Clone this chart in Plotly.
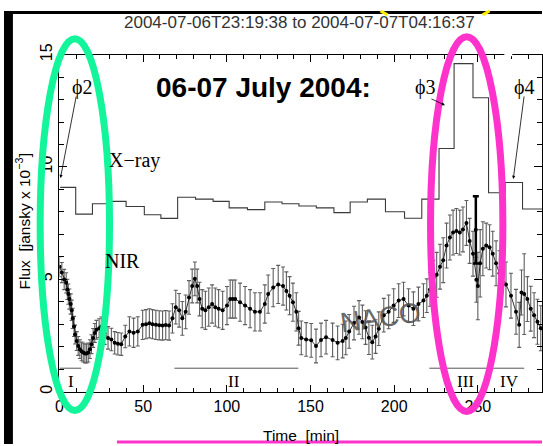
import plotly.graph_objects as go

W, H = 543, 446

# X-ray light curve: bin edges [min] and binned flux [mJy]
xray_edges = [0.4, 9.7, 19.7, 30.2, 39.8, 50.7, 60.6, 70.6, 81.3, 91.8, 101.4, 112.3,
              122.7, 133.0, 143.1, 153.5, 164.0, 173.7, 184.0, 194.8, 206.2, 216.5,
              226.8, 235.8, 247.1, 256.4, 266.3, 276.7, 288.3]
xray_flux = [9.09, 7.90, 8.36, 8.47, 8.24, 7.87, 7.71, 8.65, 8.57, 8.47, 8.18, 8.10,
             8.44, 8.36, 8.26, 8.18, 7.97, 8.44, 8.57, 8.01, 7.72, 8.57, 10.82, 14.6,
             13.08, 8.85, 9.31, 8.13]

# NIR light curve
nir_time = [0.0, 1.4, 2.8, 4.0, 4.7, 5.3, 5.9, 6.7, 7.3, 7.9, 8.7, 9.3, 10.3, 11.2, 12.2,
            13.2, 14.2, 15.2, 16.2, 17.2, 18.2, 19.1, 20.1, 21.1, 22.1, 23.7, 25.0, 27.0,
            29.0, 31.0, 33.0, 34.9, 36.9, 39.3, 41.8, 44.3, 46.8, 49.7, 51.7, 53.7, 55.6,
            57.6, 59.6, 61.6, 63.5, 65.5, 67.5, 69.5, 71.5, 73.4, 75.4, 77.4, 79.3, 80.9,
            82.3, 83.7, 85.3, 87.2, 89.2, 91.2, 93.1, 95.1, 97.5, 100.1, 102.0, 103.5,
            105.0, 107.9, 110.9, 113.9, 116.8, 119.8, 122.7, 124.7, 127.7, 130.7, 133.6,
            135.6, 137.5, 139.5, 141.5, 142.9, 144.5, 147.4, 150.4, 153.3, 156.3, 159.3,
            163.2, 166.2, 169.2, 171.1, 173.1, 176.0, 179.0, 181.0, 182.9, 184.9, 186.9,
            188.9, 190.8, 193.8, 196.7, 199.7, 202.7, 205.6, 208.6, 211.5, 214.5, 217.5,
            219.5, 221.4, 223.4, 225.4, 227.4, 229.3, 231.3, 233.3, 235.2, 237.2, 239.2,
            241.1, 243.2, 245.1, 247.1, 249.1, 250.0, 251.4, 253.0, 255.0, 257.0, 258.9,
            260.9, 262.9, 266.8, 269.8, 272.8, 274.7, 276.1, 277.7, 279.6, 281.6, 283.6,
            285.6, 287.6]
nir_flux = [5.56, 5.30, 4.99, 4.84, 4.55, 4.34, 4.12, 3.90, 3.62, 3.26, 2.90, 2.54, 2.25,
            2.03, 1.89, 1.79, 1.74, 1.70, 1.70, 1.74, 1.89, 2.11, 2.39, 2.61, 2.75, 2.82,
            2.90, 2.60, 2.39, 2.32, 2.17, 2.13, 2.11, 2.45, 2.68, 2.62, 2.68, 2.97, 3.00,
            3.04, 3.00, 2.97, 2.95, 2.94, 2.96, 2.94, 3.26, 3.76, 3.62, 3.26, 3.55, 4.19,
            4.70, 5.02, 4.70, 4.12, 3.69, 3.62, 3.76, 3.90, 3.76, 3.69, 3.62, 3.83, 4.12,
            4.12, 4.12, 3.98, 3.83, 3.69, 3.55, 3.55, 3.90, 4.34, 4.63, 4.77, 4.70, 4.48,
            4.27, 3.98, 3.55, 2.82, 2.39, 2.32, 2.28, 2.03, 2.30, 2.42, 2.30, 2.17, 2.25,
            2.39, 2.68, 3.05, 3.30, 3.10, 2.85, 2.40, 2.20, 2.45, 2.80, 3.40, 3.55, 3.83,
            4.05, 4.12, 3.83, 3.69, 3.90, 4.05, 4.27, 4.55, 4.84, 5.20, 5.56, 5.85, 6.50,
            6.86, 7.08, 7.15, 7.08, 7.22, 7.51, 6.71, 6.14, 4.98, 4.70, 5.71, 6.36, 6.50,
            6.43, 6.14, 5.71, 5.27, 4.77, 4.27, 3.55, 2.97, 4.41, 4.34, 4.12, 3.69, 3.40,
            3.11, 2.82]
nir_err = [0.45, 0.45, 0.45, 0.45, 0.45, 0.45, 0.45, 0.45, 0.45, 0.45, 0.45, 0.42, 0.42,
           0.42, 0.42, 0.42, 0.42, 0.42, 0.42, 0.42, 0.42, 0.42, 0.42, 0.42, 0.42, 0.42,
           0.42, 0.50, 0.50, 0.50, 0.50, 0.50, 0.50, 0.50, 0.65, 0.65, 0.65, 0.65, 0.65,
           0.65, 0.65, 0.65, 0.65, 0.65, 0.65, 0.65, 0.65, 0.75, 0.75, 0.75, 0.75, 0.75,
           0.75, 0.75, 0.75, 0.75, 0.85, 0.85, 0.85, 0.85, 0.85, 0.85, 0.85, 0.85, 0.85,
           0.85, 0.85, 0.85, 0.85, 0.85, 0.85, 0.85, 0.85, 0.85, 0.85, 0.85, 0.85, 0.85,
           0.85, 0.85, 0.85, 0.75, 0.75, 0.75, 0.75, 0.75, 0.75, 0.75, 0.75, 0.75, 0.75,
           0.75, 0.75, 0.75, 0.75, 0.75, 0.75, 0.75, 0.75, 0.75, 0.75, 0.75, 0.75, 0.75,
           0.75, 0.75, 0.75, 0.75, 0.75, 0.75, 0.75, 0.75, 1.0, 1.0, 1.0, 1.0, 1.0, 1.0,
           1.0, 1.0, 1.0, 1.0, 1.0, 1.0, 1.0, 1.0, 1.5, 1.5, 1.2, 1.0, 1.0, 1.0, 1.0,
           1.0, 1.0, 1.0, 1.0, 1.0, 1.0, 1.8, 1.0, 1.0, 1.0, 1.0, 1.0, 1.0]

# single high-error NIR point near the X-ray peak
spike_time = [248.8]
spike_flux = [7.2]
spike_err = [1.5]

# flare phases: label, label position, interval lines [min]
phase_labels = ["I", "II", "III", "IV"]
phase_label_time = [7.0, 104.0, 242.5, 269.0]
phase_lines = [(0.0, 13.0), (68.7, 142.7), (221.0, 277.7)]

title_text = "2004-07-06T23:19:38 to 2004-07-07T04:16:37"

X0, X1 = 56, 543     # plot area left/right [px]
Y0, Y1 = 45, 392     # plot area top/bottom [px]


def px(x):
    return x / W


def py(y):
    return 1 - y / H


fig = go.Figure()

fig.add_trace(go.Scatter(
    x=xray_edges, y=xray_flux + [xray_flux[-1]], mode="lines", line_shape="hv",
    line=dict(color="#3a3a3a", width=1.1), showlegend=False, hoverinfo="skip"))

fig.add_trace(go.Scatter(
    x=nir_time, y=nir_flux, mode="lines+markers",
    line=dict(color="black", width=0.8),
    marker=dict(color="black", size=4),
    error_y=dict(type="data", array=nir_err, color="#5e5e5e", thickness=1.1, width=2),
    showlegend=False, hoverinfo="skip"))

fig.add_trace(go.Scatter(
    x=spike_time, y=spike_flux, mode="markers",
    marker=dict(color="black", size=4),
    error_y=dict(type="data", array=spike_err, color="black", thickness=2.5, width=3),
    showlegend=False, hoverinfo="skip"))

shapes = []
annotations = []

# phase intervals
for a, b in phase_lines:
    shapes.append(dict(type="line", xref="x", yref="y", x0=a, x1=b, y0=1.04, y1=1.04,
                       line=dict(color="#555", width=1)))
for lab, t in zip(phase_labels, phase_label_time):
    annotations.append(dict(x=t, y=0.47, xref="x", yref="y", text=lab, showarrow=False,
                            xanchor="center", yanchor="middle",
                            font=dict(family="Liberation Serif", size=17, color="black")))

# frame edges and black border strips
shapes.append(dict(type="line", xref="paper", yref="paper", x0=px(505), x1=px(513),
                   y0=py(Y0), y1=py(Y0), line=dict(color="white", width=3), layer="above"))
shapes.append(dict(type="rect", xref="paper", yref="paper", x0=0, x1=px(9), y0=0, y1=1,
                   fillcolor="black", line=dict(width=0), layer="above"))
shapes.append(dict(type="rect", xref="paper", yref="paper", x0=0, x1=1, y0=py(3), y1=1,
                   fillcolor="black", line=dict(width=0), layer="above"))
shapes.append(dict(type="line", xref="paper", yref="paper", x0=px(380), x1=px(387),
                   y0=py(0), y1=py(4), line=dict(color="#ffee00", width=3), layer="above"))
shapes.append(dict(type="line", xref="paper", yref="paper", x0=px(490), x1=px(483),
                   y0=py(0), y1=py(4), line=dict(color="#ffee00", width=3), layer="above"))

# highlight ellipses
shapes.append(dict(type="circle", xref="paper", yref="paper", x0=px(36.5), x1=px(106.5),
                   y0=py(411.5), y1=py(28.5), line=dict(color="#12F59A", width=7),
                   layer="above"))
shapes.append(dict(type="circle", xref="paper", yref="paper", x0=px(430.5), x1=px(503.5),
                   y0=py(412.5), y1=py(26.5), line=dict(color="#FF33CC", width=7),
                   layer="above"))
shapes.append(dict(type="line", xref="paper", yref="paper", x0=px(114), x1=1,
                   y0=py(444), y1=py(444), line=dict(color="#FF33CC", width=3),
                   layer="above"))

# texts placed in figure pixels
serif = "Liberation Serif"
texts = [
    (298, 12, title_text, "Liberation Sans", 17, "#333", 0),
    (262, 79, "<b>06-07 July 2004:</b>", "Liberation Sans", 28, "black", 0),
    (79, 79, "\u03d52", serif, 20, "black", 0),
    (425, 79, "\u03d53", serif, 20, "black", 0),
    (525, 79, "\u03d54", serif, 20, "black", 0),
    (132, 154, "X\u2212ray", serif, 20, "black", 0),
    (120, 257, "NIR", serif, 20, "black", 0),
    (380, 316, "NACO", "Liberation Sans", 28, "rgba(85,85,85,0.9)", -8),
    (300, 437, "Time  [min]", "Liberation Sans", 15.5, "black", 0),
    (19, 217, "Flux  [jansky x 10<sup>\u22123</sup>]", "Liberation Sans", 15.5, "black", -90),
]
for x, y, txt, fam, size, col, ang in texts:
    annotations.append(dict(x=px(x), y=py(y), xref="paper", yref="paper", text=txt,
                            showarrow=False, textangle=ang, xanchor="center",
                            yanchor="middle",
                            font=dict(family=fam, size=size, color=col)))

# pointer arrows for the phase markers
for tip, tail in [((57, 172), (73, 89)), ((445, 97), (430, 90)), ((514, 173), (525, 89))]:
    annotations.append(dict(x=px(tip[0]), y=py(tip[1]), xref="paper", yref="paper",
                            ax=tail[0] - tip[0], ay=tail[1] - tip[1], text="",
                            showarrow=True, arrowhead=2, arrowsize=0.8, arrowwidth=0.8,
                            arrowcolor="black"))

axis_font = dict(family="Liberation Sans", size=16, color="black")
fig.update_layout(
    width=W, height=H, margin=dict(l=0, r=0, t=0, b=0),
    paper_bgcolor="white", plot_bgcolor="white",
    shapes=shapes, annotations=annotations,
    xaxis=dict(domain=[px(X0), px(X1)], range=[0, (X1 - X0) / 1.689],
               showgrid=False, zeroline=False, showline=True, linecolor="black",
               linewidth=1, mirror="ticks", ticks="inside", ticklen=7, tickwidth=1,
               tickcolor="black", dtick=50, tick0=0, tickfont=axis_font,
               minor=dict(dtick=10, ticks="inside", ticklen=4, tickcolor="black")),
    yaxis=dict(domain=[py(Y1), py(Y0)], range=[0, 15],
               showgrid=False, zeroline=False, showline=True, linecolor="black",
               linewidth=1, mirror="ticks", ticks="inside", ticklen=8, tickwidth=1,
               tickcolor="black", dtick=5, tick0=0, tickangle=-90, tickfont=axis_font,
               minor=dict(dtick=1, ticks="inside", ticklen=5, tickcolor="black")),
)

fig.write_html("out.html")
